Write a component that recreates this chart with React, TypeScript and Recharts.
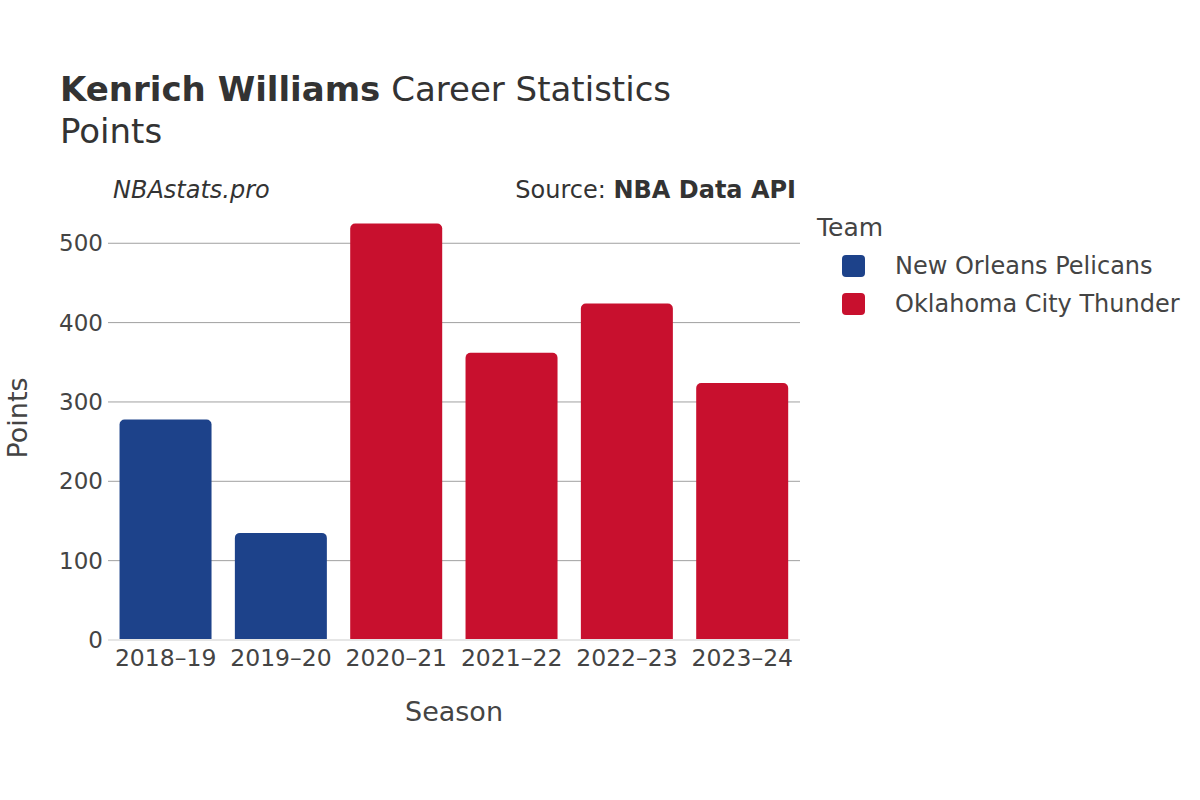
import { Bar, BarChart, CartesianGrid, Cell, XAxis, YAxis } from 'recharts';

const seasons = ['2018–19', '2019–20', '2020–21', '2021–22', '2022–23', '2023–24'];
const seasonTeams = [
  'New Orleans Pelicans',
  'New Orleans Pelicans',
  'Oklahoma City Thunder',
  'Oklahoma City Thunder',
  'Oklahoma City Thunder',
  'Oklahoma City Thunder',
];
const points = [278, 135, 525, 362, 424, 324];

const teams = ['New Orleans Pelicans', 'Oklahoma City Thunder'];
const teamColors = ['#1d428a', '#c8102e'];

const yTicks = [0, 100, 200, 300, 400, 500];
const Y_MAX = 552;

const FONT = '"DejaVu Sans", sans-serif';

function colorFor(team: string): string {
  return teamColors[teams.indexOf(team)] ?? '#888';
}

export default function App() {
  const data = seasons.map((season, i) => ({
    season,
    team: seasonTeams[i],
    points: points[i],
  }));

  return (
    <div style={{ position: 'absolute', left: 0, top: 0, width: 1200, height: 800, background: '#fff' }}>
      <BarChart
        width={1200}
        height={800}
        data={data}
        margin={{ top: 202, right: 400, bottom: 130, left: 48 }}
        barCategoryGap="10%"
      >
        <CartesianGrid
          vertical={false}
          stroke="#a0a0a0"
          strokeWidth={1}
          horizontalCoordinatesGenerator={({ offset }: any) =>
            // skip the zero line (drawn by the x axis) and the top edge
            yTicks.slice(1).map((t) => offset.top + offset.height * (1 - t / Y_MAX))
          }
        />
        <XAxis
          dataKey="season"
          height={30}
          tickSize={0}
          tickMargin={9}
          axisLine={{ stroke: '#e6e6e6', strokeWidth: 2 }}
          tick={{ fill: '#444', fontSize: 23.5, fontFamily: FONT }}
          interval={0}
        />
        <YAxis
          width={60}
          domain={[0, Y_MAX]}
          ticks={yTicks}
          tickSize={0}
          tickMargin={5}
          axisLine={false}
          tick={{ fill: '#444', fontSize: 23, fontFamily: FONT }}
        />
        <Bar dataKey="points" radius={[5, 5, 0, 0]} isAnimationActive={false}>
          {data.map((d) => (
            <Cell key={d.season} fill={colorFor(d.team)} />
          ))}
        </Bar>
      </BarChart>

      <svg
        width={1200}
        height={800}
        style={{ position: 'absolute', left: 0, top: 0, pointerEvents: 'none' }}
        fontFamily={FONT}
      >
        <text x={60} y={101} fontSize={34} fill="#333">
          <tspan fontWeight="bold">Kenrich Williams</tspan>
          <tspan> Career Statistics</tspan>
        </text>
        <text x={60} y={143} fontSize={34} fill="#333">
          Points
        </text>
        <text x={113} y={198} fontSize={24} fontStyle="italic" fill="#333">
          NBAstats.pro
        </text>
        <text x={796} y={198} fontSize={24} fill="#333" textAnchor="end">
          <tspan>Source: </tspan>
          <tspan fontWeight="bold">NBA Data API</tspan>
        </text>

        <text x={454} y={721} fontSize={27} fill="#444" textAnchor="middle">
          Season
        </text>
        <text
          x={17}
          y={418}
          fontSize={27}
          fill="#444"
          textAnchor="middle"
          dominantBaseline="central"
          transform="rotate(-90 17 418)"
        >
          Points
        </text>

        <text x={817} y={236} fontSize={25} fill="#444">
          Team
        </text>
        {teams.map((team, i) => (
          <g key={team}>
            <rect x={842} y={255 + i * 38} width={23} height={22} rx={4} fill={teamColors[i]} />
            <text x={895} y={274 + i * 38} fontSize={24} fill="#444">
              {team}
            </text>
          </g>
        ))}
      </svg>
    </div>
  );
}
